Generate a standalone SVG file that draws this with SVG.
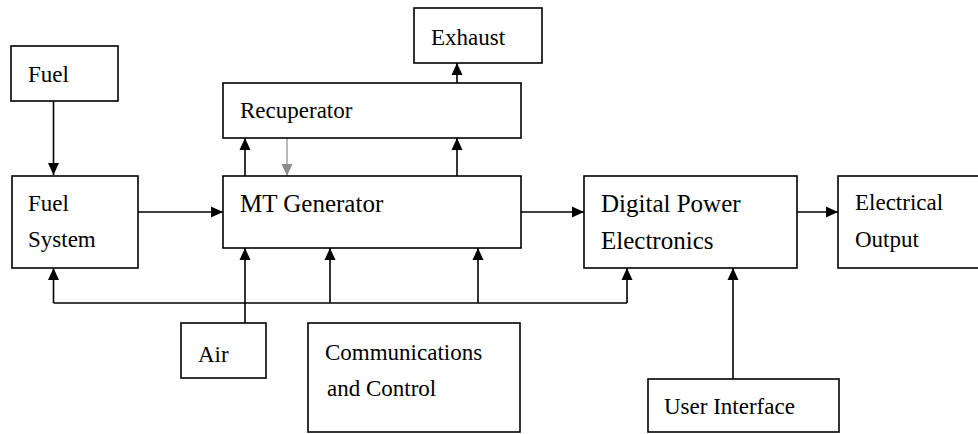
<svg xmlns="http://www.w3.org/2000/svg" width="978" height="434" viewBox="0 0 978 434">
  <style>
    .box { fill: #ffffff; stroke: #000000; stroke-width: 1.6; }
    .lbl { font-family: "Liberation Serif", "Times New Roman", serif; font-size: 23px; fill: #000000; }
    .big { font-size: 25px; }
    .wire { fill: none; stroke: #000000; stroke-width: 1.6; }
    .wire-grey { fill: none; stroke: #a8a8a8; stroke-width: 1.6; }
  </style>
  <defs>
    <marker id="arrow" viewBox="0 0 12 12" refX="12" refY="6" markerWidth="12" markerHeight="12" markerUnits="userSpaceOnUse" orient="auto">
      <path d="M0,0.5 L12,6 L0,11.5 Z" fill="#000000"/>
    </marker>
    <marker id="arrow-grey" viewBox="0 0 12 12" refX="12" refY="6" markerWidth="12" markerHeight="12" markerUnits="userSpaceOnUse" orient="auto">
      <path d="M0,0.5 L12,6 L0,11.5 Z" fill="#8c8c8c"/>
    </marker>
  </defs>

  <rect width="978" height="434" fill="#ffffff"/>

  <!-- connectors -->
  <g id="connectors">
    <!-- fuel feed -->
    <line class="wire" x1="53.5" y1="101" x2="53.5" y2="175" marker-end="url(#arrow)"/>
    <!-- fuel system to generator -->
    <line class="wire" x1="138" y1="212" x2="223" y2="212" marker-end="url(#arrow)"/>
    <!-- generator to recuperator and back -->
    <line class="wire" x1="245" y1="176" x2="245" y2="138" marker-end="url(#arrow)"/>
    <line class="wire-grey" x1="287" y1="138" x2="287" y2="176" marker-end="url(#arrow-grey)"/>
    <!-- generator exhaust through recuperator -->
    <line class="wire" x1="457" y1="176" x2="457" y2="138" marker-end="url(#arrow)"/>
    <line class="wire" x1="457" y1="138" x2="457" y2="63" marker-end="url(#arrow)"/>
    <!-- generator to power electronics -->
    <line class="wire" x1="521" y1="212" x2="584" y2="212" marker-end="url(#arrow)"/>
    <!-- power electronics to output -->
    <line class="wire" x1="797" y1="212" x2="838" y2="212" marker-end="url(#arrow)"/>
    <!-- control bus -->
    <line class="wire" x1="53.5" y1="303" x2="627" y2="303"/>
    <line class="wire" x1="53.5" y1="303" x2="53.5" y2="268" marker-end="url(#arrow)"/>
    <line class="wire" x1="330" y1="303" x2="330" y2="248" marker-end="url(#arrow)"/>
    <line class="wire" x1="478" y1="303" x2="478" y2="248" marker-end="url(#arrow)"/>
    <line class="wire" x1="627" y1="303" x2="627" y2="268" marker-end="url(#arrow)"/>
    <!-- air intake -->
    <line class="wire" x1="245" y1="323" x2="245" y2="248" marker-end="url(#arrow)"/>
    <!-- user interface -->
    <line class="wire" x1="733" y1="379" x2="733" y2="268" marker-end="url(#arrow)"/>
  </g>

  <g id="fuel">
    <rect class="box" x="11" y="46" width="107" height="55"/>
    <text class="lbl" x="28" y="82">Fuel</text>
  </g>

  <g id="fuel-system">
    <rect class="box" x="12" y="176" width="126" height="92"/>
    <text class="lbl" x="28" y="211">Fuel</text>
    <text class="lbl" x="28" y="247">System</text>
  </g>

  <g id="exhaust">
    <rect class="box" x="414" y="8" width="128" height="55"/>
    <text class="lbl" x="431" y="45">Exhaust</text>
  </g>

  <g id="recuperator">
    <rect class="box" x="223" y="83" width="298" height="55"/>
    <text class="lbl" x="240" y="118">Recuperator</text>
  </g>

  <g id="mt-generator">
    <rect class="box" x="223" y="176" width="298" height="72"/>
    <text class="lbl big" x="240" y="212">MT Generator</text>
  </g>

  <g id="power-electronics">
    <rect class="box" x="584" y="176" width="213" height="92"/>
    <text class="lbl big" x="601" y="212">Digital Power</text>
    <text class="lbl big" x="601" y="249">Electronics</text>
  </g>

  <g id="electrical-output">
    <rect class="box" x="838" y="176" width="150" height="92"/>
    <text class="lbl" x="855" y="210">Electrical</text>
    <text class="lbl" x="855" y="247">Output</text>
  </g>

  <g id="air">
    <rect class="box" x="181" y="323" width="85" height="55"/>
    <text class="lbl" x="198" y="362">Air</text>
  </g>

  <g id="communications">
    <rect class="box" x="308" y="323" width="212" height="109"/>
    <text class="lbl" x="325" y="360">Communications</text>
    <text class="lbl" x="327" y="396">and Control</text>
  </g>

  <g id="user-interface">
    <rect class="box" x="648" y="379" width="191" height="53"/>
    <text class="lbl" x="664" y="414">User Interface</text>
  </g>
</svg>
